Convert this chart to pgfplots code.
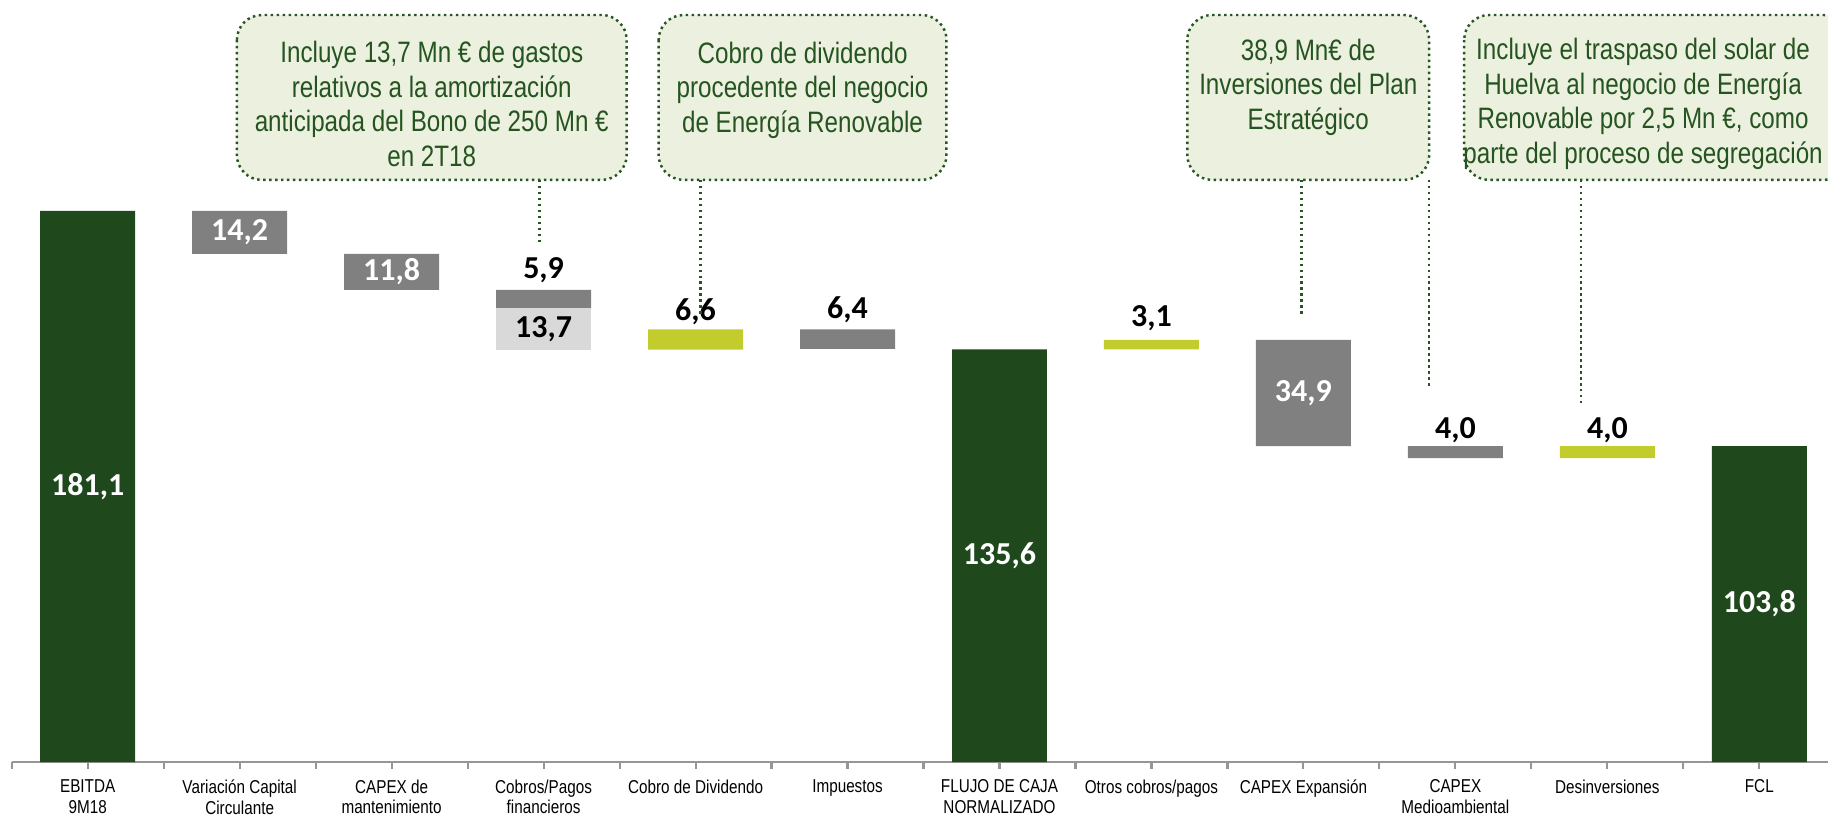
\documentclass[border=0pt]{standalone}
\usepackage{fontspec}
\usepackage{pgfplots}
\pgfplotsset{compat=1.18}
\setmainfont{Liberation Sans}
\newfontfamily\narrow[FakeStretch=0.82]{Liberation Sans}
\newfontfamily\calibri{Carlito}
\newcommand\valfont{\calibri\bfseries\fontsize{9.1pt}{9.5pt}\selectfont}
\newcommand\tickfont{\narrow\fontsize{5.3pt}{5.8pt}\selectfont}
\newcommand\boxfont{\narrow\fontsize{8.4pt}{9.8pt}\selectfont}
\definecolor{dkgreen}{RGB}{31,72,28}
\definecolor{barGray}{RGB}{128,128,128}
\definecolor{ltGray}{RGB}{217,217,217}
\definecolor{ygreen}{RGB}{194,204,44}
\definecolor{boxfill}{RGB}{235,241,222}
\definecolor{boxline}{RGB}{40,85,35}
\definecolor{boxtext}{RGB}{38,84,33}
\definecolor{axisgray}{RGB}{150,150,150}
\tikzset{vl/.style={font=\valfont, inner sep=0pt}}

\begin{document}
\begin{tikzpicture}
% 1 px of the reference = 0.01cm
\path[use as bounding box] (0,0) rectangle (18.28cm,-8.16cm);

\begin{axis}[
    at={(0.117cm,-7.62cm)}, anchor=south west,
    scale only axis, width=18.16cm, height=7.61cm,
    xmin=-0.5, xmax=11.45, ymin=0, ymax=250,
    enlargelimits=false, clip=false,
    ybar stacked, bar width=0.625,
    axis x line*=bottom, axis y line=none,
    axis line style={draw=axisgray, line width=0.6pt},
    % boundary ticks
    xtick={-0.5,0.5,1.5,2.5,3.5,4.5,5.5,6.5,7.5,8.5,9.5,10.5},
    xticklabels={},
    xtick align=outside,
    major tick length=0.065cm,
    xtick style={draw=axisgray, line width=0.6pt},
    % category labels
    extra x ticks={0,1,2,3,4,5,6,7,8,9,10,11},
    extra x tick style={tick style={draw=none}},
    xticklabel style={font=\tickfont, align=center, text=black, yshift=0.01cm},
    extra x tick labels={{EBITDA\\9M18},{Variación Capital\\Circulante},{CAPEX de\\mantenimiento},{Cobros/Pagos\\financieros},{Cobro de Dividendo},{Impuestos},{FLUJO DE CAJA\\NORMALIZADO},{Otros cobros/pagos},{CAPEX Expansión},{CAPEX\\Medioambiental},{Desinversiones},{FCL}},
    ytick=\empty,
]
% invisible base
\addplot[draw=none, fill=white, fill opacity=0] coordinates {(0,0) (1,166.9) (2,155.1) (3,135.5) (4,135.5) (5,135.7) (6,0) (7,135.6) (8,103.8) (9,99.8) (10,99.8) (11,0)};
% light gray (13,7 gastos amortizacion)
\addplot[draw=none, fill=ltGray] coordinates {(0,0) (1,0) (2,0) (3,13.7) (4,0) (5,0) (6,0) (7,0) (8,0) (9,0) (10,0) (11,0)};
% gray decreases
\addplot[draw=none, fill=barGray] coordinates {(0,0) (1,14.2) (2,11.8) (3,5.9) (4,0) (5,6.4) (6,0) (7,0) (8,34.9) (9,4.0) (10,0) (11,0)};
% totals
\addplot[draw=none, fill=dkgreen] coordinates {(0,181.1) (1,0) (2,0) (3,0) (4,0) (5,0) (6,135.6) (7,0) (8,0) (9,0) (10,0) (11,103.8)};
% increases
\addplot[draw=none, fill=ygreen] coordinates {(0,0) (1,0) (2,0) (3,0) (4,6.6) (5,0) (6,0) (7,3.1) (8,0) (9,0) (10,4.0) (11,0)};

% label anchors, drawn after the axis so they sit on top of the bars
\coordinate (v0) at (axis cs:0,90.55);
\coordinate (v1) at (axis cs:1,174.0);
\coordinate (v2) at (axis cs:2,161.0);
\coordinate (v3a) at (axis cs:3,161.7);
\coordinate (v3b) at (axis cs:3,142.35);
\coordinate (v4) at (axis cs:4,147.9);
\coordinate (v5) at (axis cs:5,148.5);
\coordinate (v6) at (axis cs:6,67.8);
\coordinate (v7) at (axis cs:7,145.9);
\coordinate (v8) at (axis cs:8,121.3);
\coordinate (v9) at (axis cs:9,109.1);
\coordinate (v10) at (axis cs:10,109.0);
\coordinate (v11) at (axis cs:11,51.9);
\end{axis}

\node[vl, text=white] at (v0) {181,1};
\node[vl, text=white] at (v1) {14,2};
\node[vl, text=white] at (v2) {11,8};
\node[vl, text=black] at (v3a) {5,9};
\node[vl, text=black] at (v3b) {13,7};
\node[vl, text=black] at (v4) {6,6};
\node[vl, text=black] at (v5) {6,4};
\node[vl, text=white] at (v6) {135,6};
\node[vl, text=black] at (v7) {3,1};
\node[vl, text=white] at (v8) {34,9};
\node[vl, text=black] at (v9) {4,0};
\node[vl, text=black] at (v10) {4,0};
\node[vl, text=white] at (v11) {103,8};

% callouts, in reference pixels
\begin{scope}[x=0.01cm,y=-0.01cm]
\tikzset{cbox/.style={draw=boxline, fill=boxfill, densely dotted, line width=0.7pt, rounded corners=0.25cm},
         conn/.style={draw=boxline, densely dotted, line width=0.7pt},
         ctext/.style={font=\boxfont, text=boxtext, align=center, inner sep=0pt}}
\draw[conn] (540,180) -- (540,243);
\draw[conn] (701,180) -- (701,317);
\draw[conn] (1302,180) -- (1302,316);
\draw[conn] (1430,180) -- (1430,388);
\draw[conn] (1582,180) -- (1582,403);

\path[cbox] (237,15) rectangle (627,180);
\node[ctext] at (432,104) {Incluye 13,7 Mn € de gastos\\relativos a la amortización\\anticipada del Bono de 250 Mn €\\en 2T18};

\path[cbox] (659,15) rectangle (947,180);
\node[ctext] at (803,90) {Cobro de dividendo\\procedente del negocio\\de Energía Renovable};

\path[cbox] (1188,15) rectangle (1430,180);
\node[ctext] at (1309,87) {38,9 Mn€ de\\Inversiones del Plan\\Estratégico};

\path[cbox] (1465,15) rectangle (1850,180);
\node[ctext] at (1644,104) {Incluye el traspaso del solar de\\Huelva al negocio de Energía\\Renovable por 2,5 Mn €, como\\parte del proceso de segregación};
\end{scope}
\end{tikzpicture}
\end{document}
